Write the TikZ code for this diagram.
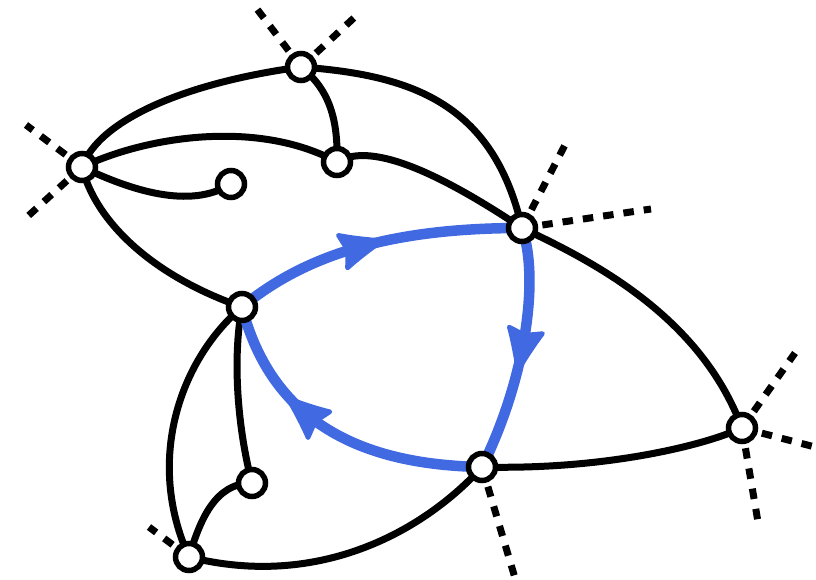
\documentclass[tikz,border=0pt]{standalone}
\usetikzlibrary{arrows.meta,decorations.markings,backgrounds}
\definecolor{royal}{RGB}{65,105,225}
\begin{document}
\begin{tikzpicture}[x=1pt,y=-1pt,
  vertex/.style={circle,draw,fill=white,line width=5.5pt,minimum size=27pt,inner sep=0pt},
  edge/.style={line width=7pt},
  stub/.style={line width=7pt,dash pattern=on 10.5pt off 10pt},
  cyc/.style={royal,line width=10.5pt,postaction={decorate},
    decoration={markings,mark=at position #1 with {%
      \filldraw[royal,line width=4.5pt,line join=round]
        (23pt,0pt) .. controls (9pt,5pt) and (-6pt,11pt) .. (-18pt,17pt)
        -- (-13pt,0pt) -- (-18pt,-17pt)
        .. controls (-6pt,-11pt) and (9pt,-5pt) .. cycle;}}}]
\useasboundingbox (0,0) rectangle (816,580);
% vertices
\node[vertex] (a) at (301,67) {};
\node[vertex] (b) at (82,167) {};
\node[vertex] (c) at (337,162) {};
\node[vertex] (d) at (231,184) {};
\node[vertex] (e) at (522,228) {};
\node[vertex] (f) at (242,307) {};
\node[vertex] (g) at (742,428) {};
\node[vertex] (h) at (482,467) {};
\node[vertex] (i) at (252,483) {};
\node[vertex] (j) at (189,557) {};
% stub ends
\coordinate (a1) at (257,9);
\coordinate (a2) at (356,16);
\coordinate (b1) at (26,125);
\coordinate (b2) at (27,217);
\coordinate (e1) at (566,143);
\coordinate (e2) at (651,209);
\coordinate (g1) at (795,353);
\coordinate (g2) at (815,447);
\coordinate (g3) at (758,522);
\coordinate (h1) at (515,578);
\coordinate (j1) at (149,527);
\begin{scope}[on background layer]
  \foreach \n/\m in {a/a1,a/a2,b/b1,b/b2,e/e1,e/e2,g/g1,g/g2,g/g3,h/h1,j/j1}
    \draw[stub] (\n.center) -- (\m);
  \draw[edge] (b.center) .. controls (100,118) and (190,82) .. (a.center);
  \draw[edge] (a.center) .. controls (410,75) and (493,102) .. (e.center);
  \draw[edge] (a.center) .. controls (330,90) and (338,120) .. (c.center);
  \draw[edge] (b.center) .. controls (150,135) and (260,120) .. (c.center);
  \draw[edge] (c.center) .. controls (365,145) and (420,160) .. (e.center);
  \draw[edge] (b.center) .. controls (130,190) and (190,210) .. (d.center);
  \draw[edge] (b.center) .. controls (95,220) and (150,275) .. (f.center);
  \draw[edge] (e.center) .. controls (590,260) and (700,315) .. (g.center);
  \draw[edge] (g.center) .. controls (700,447) and (600,470) .. (h.center);
  \draw[edge] (h.center) .. controls (425,530) and (320,590) .. (j.center);
  \draw[edge] (f.center) .. controls (180,360) and (145,460) .. (j.center);
  \draw[edge] (f.center) .. controls (232,360) and (238,430) .. (i.center);
  \draw[edge] (i.center) .. controls (215,483) and (200,520) .. (j.center);
  \draw[cyc=0.45] (f.center) .. controls (305,255) and (390,228) .. (e.center);
  \draw[cyc=0.49] (e.center) .. controls (540,280) and (525,380) .. (h.center);
  \draw[cyc=0.6] (h.center) .. controls (380,465) and (275,435) .. (f.center);
\end{scope}
\end{tikzpicture}
\end{document}
